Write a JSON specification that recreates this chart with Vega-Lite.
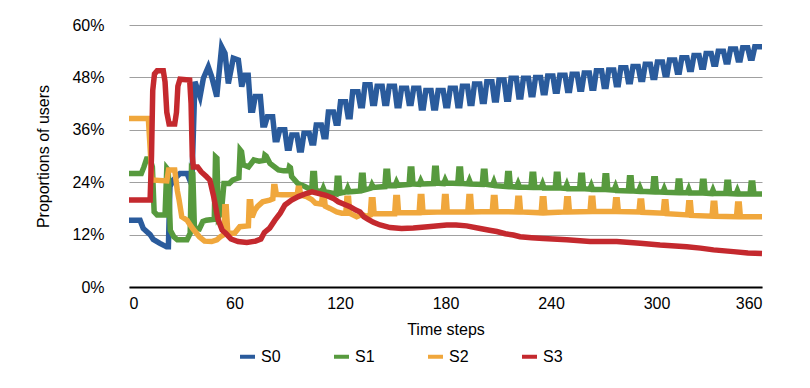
{
"$schema": "https://vega.github.io/schema/vega-lite/v6.json",
"width": 633, "height": 262,
"autosize": {"type": "none"},
"padding": {"left": 129, "top": 25, "right": 48, "bottom": 101},
"background": "white",
"config": {"view": {"stroke": null}, "font": "Liberation Sans"},
"data": {"values": [
{"t":0,"s":"S0","v":15.3},{"t":6.3,"s":"S0","v":15.3},{"t":8.1,"s":"S0","v":13.4},{"t":12,"s":"S0","v":12},{"t":13.8,"s":"S0","v":10.9},{"t":17.6,"s":"S0","v":10},{"t":21.4,"s":"S0","v":9.2},{"t":22.4,"s":"S0","v":9.2},{"t":23.3,"s":"S0","v":23},{"t":25.2,"s":"S0","v":24.5},{"t":29,"s":"S0","v":26},{"t":33,"s":"S0","v":26},{"t":35.7,"s":"S0","v":23.4},{"t":37.5,"s":"S0","v":47},{"t":40.4,"s":"S0","v":43.6},{"t":42.3,"s":"S0","v":47.8},{"t":45.1,"s":"S0","v":50.4},{"t":47,"s":"S0","v":48.2},{"t":49.9,"s":"S0","v":43.6},{"t":52.7,"s":"S0","v":55},{"t":54.6,"s":"S0","v":53.5},{"t":56.5,"s":"S0","v":46.6},{"t":59.3,"s":"S0","v":52.4},{"t":62.2,"s":"S0","v":52},{"t":64.1,"s":"S0","v":45.9},{"t":66,"s":"S0","v":48.5},{"t":67.8,"s":"S0","v":48.5},
{"t":69.2,"s":"S0","v":40.5},{"t":70.4,"s":"S0","v":40.5},{"t":71.8,"s":"S0","v":43.6},{"t":74.7,"s":"S0","v":43.6},
{"t":76.1,"s":"S0","v":37.1},{"t":77.3,"s":"S0","v":37.1},{"t":78.7,"s":"S0","v":39.0},{"t":81.7,"s":"S0","v":39.0},
{"t":83.1,"s":"S0","v":33.7},{"t":84.3,"s":"S0","v":33.7},{"t":85.7,"s":"S0","v":36.0},{"t":88.6,"s":"S0","v":36.0},
{"t":90.0,"s":"S0","v":31.8},{"t":91.2,"s":"S0","v":31.8},{"t":92.6,"s":"S0","v":34.8},{"t":95.5,"s":"S0","v":34.8},
{"t":96.9,"s":"S0","v":31.4},{"t":98.1,"s":"S0","v":31.4},{"t":99.5,"s":"S0","v":35.2},{"t":102.5,"s":"S0","v":35.2},
{"t":103.9,"s":"S0","v":33.0},{"t":105.1,"s":"S0","v":33.0},{"t":106.5,"s":"S0","v":37.1},{"t":109.4,"s":"S0","v":37.1},
{"t":110.8,"s":"S0","v":34.4},{"t":112.0,"s":"S0","v":34.4},{"t":113.4,"s":"S0","v":40.1},{"t":116.3,"s":"S0","v":40.1},
{"t":117.7,"s":"S0","v":37.5},{"t":118.9,"s":"S0","v":37.5},{"t":120.3,"s":"S0","v":42.4},{"t":123.2,"s":"S0","v":42.4},
{"t":124.6,"s":"S0","v":39.0},{"t":125.8,"s":"S0","v":39.0},{"t":127.2,"s":"S0","v":44.7},{"t":130.2,"s":"S0","v":44.7},
{"t":131.6,"s":"S0","v":41.5},{"t":132.8,"s":"S0","v":41.5},{"t":134.2,"s":"S0","v":46.3},{"t":137.1,"s":"S0","v":46.3},
{"t":138.5,"s":"S0","v":42.0},{"t":139.7,"s":"S0","v":42.0},{"t":141.1,"s":"S0","v":46.0},{"t":144.0,"s":"S0","v":46.0},
{"t":145.4,"s":"S0","v":42.0},{"t":146.6,"s":"S0","v":42.0},{"t":148.0,"s":"S0","v":46.0},{"t":151.0,"s":"S0","v":46.0},
{"t":152.4,"s":"S0","v":41.5},{"t":153.6,"s":"S0","v":41.5},{"t":155.0,"s":"S0","v":45.5},{"t":157.9,"s":"S0","v":45.5},
{"t":159.3,"s":"S0","v":42.0},{"t":160.5,"s":"S0","v":42.0},{"t":161.9,"s":"S0","v":45.5},{"t":164.8,"s":"S0","v":45.5},
{"t":166.2,"s":"S0","v":41.0},{"t":167.4,"s":"S0","v":41.0},{"t":168.8,"s":"S0","v":45.0},{"t":171.8,"s":"S0","v":45.0},
{"t":173.2,"s":"S0","v":41.0},{"t":174.4,"s":"S0","v":41.0},{"t":175.8,"s":"S0","v":45.0},{"t":178.7,"s":"S0","v":45.0},
{"t":180.1,"s":"S0","v":41.5},{"t":181.3,"s":"S0","v":41.5},{"t":182.7,"s":"S0","v":45.5},{"t":185.6,"s":"S0","v":45.5},
{"t":187.0,"s":"S0","v":41.5},{"t":188.2,"s":"S0","v":41.5},{"t":189.6,"s":"S0","v":46.0},{"t":192.5,"s":"S0","v":46.0},
{"t":193.9,"s":"S0","v":42.0},{"t":195.1,"s":"S0","v":42.0},{"t":196.5,"s":"S0","v":46.5},{"t":199.5,"s":"S0","v":46.5},
{"t":200.9,"s":"S0","v":42.5},{"t":202.1,"s":"S0","v":42.5},{"t":203.5,"s":"S0","v":47.0},{"t":206.4,"s":"S0","v":47.0},
{"t":207.8,"s":"S0","v":42.8},{"t":209.0,"s":"S0","v":42.8},{"t":210.4,"s":"S0","v":47.4},{"t":213.3,"s":"S0","v":47.4},
{"t":214.7,"s":"S0","v":43.0},{"t":215.9,"s":"S0","v":43.0},{"t":217.3,"s":"S0","v":47.8},{"t":220.3,"s":"S0","v":47.8},
{"t":221.7,"s":"S0","v":43.5},{"t":222.9,"s":"S0","v":43.5},{"t":224.3,"s":"S0","v":47.8},{"t":227.2,"s":"S0","v":47.8},
{"t":228.6,"s":"S0","v":44.0},{"t":229.8,"s":"S0","v":44.0},{"t":231.2,"s":"S0","v":48.0},{"t":234.1,"s":"S0","v":48.0},
{"t":235.5,"s":"S0","v":44.5},{"t":236.7,"s":"S0","v":44.5},{"t":238.1,"s":"S0","v":48.3},{"t":241.1,"s":"S0","v":48.3},
{"t":242.4,"s":"S0","v":44.8},{"t":243.6,"s":"S0","v":44.8},{"t":245.0,"s":"S0","v":48.5},{"t":248.0,"s":"S0","v":48.5},
{"t":249.4,"s":"S0","v":45.0},{"t":250.6,"s":"S0","v":45.0},{"t":252.0,"s":"S0","v":48.7},{"t":254.9,"s":"S0","v":48.7},
{"t":256.3,"s":"S0","v":45.3},{"t":257.5,"s":"S0","v":45.3},{"t":258.9,"s":"S0","v":49.0},{"t":261.8,"s":"S0","v":49.0},
{"t":263.2,"s":"S0","v":45.5},{"t":264.4,"s":"S0","v":45.5},{"t":265.8,"s":"S0","v":49.5},{"t":268.8,"s":"S0","v":49.5},
{"t":270.2,"s":"S0","v":45.9},{"t":271.4,"s":"S0","v":45.9},{"t":272.8,"s":"S0","v":49.7},{"t":275.7,"s":"S0","v":49.7},
{"t":277.1,"s":"S0","v":46.3},{"t":278.3,"s":"S0","v":46.3},{"t":279.7,"s":"S0","v":50.2},{"t":282.6,"s":"S0","v":50.2},
{"t":284.0,"s":"S0","v":47.0},{"t":285.2,"s":"S0","v":47.0},{"t":286.6,"s":"S0","v":50.5},{"t":289.6,"s":"S0","v":50.5},
{"t":291.0,"s":"S0","v":47.5},{"t":292.2,"s":"S0","v":47.5},{"t":293.6,"s":"S0","v":51.0},{"t":296.5,"s":"S0","v":51.0},
{"t":297.9,"s":"S0","v":48.0},{"t":299.1,"s":"S0","v":48.0},{"t":300.5,"s":"S0","v":51.5},{"t":303.4,"s":"S0","v":51.5},
{"t":304.8,"s":"S0","v":48.6},{"t":306.0,"s":"S0","v":48.6},{"t":307.4,"s":"S0","v":52.0},{"t":310.4,"s":"S0","v":52.0},
{"t":311.8,"s":"S0","v":49.2},{"t":313.0,"s":"S0","v":49.2},{"t":314.4,"s":"S0","v":52.5},{"t":317.3,"s":"S0","v":52.5},
{"t":318.7,"s":"S0","v":49.8},{"t":319.9,"s":"S0","v":49.8},{"t":321.3,"s":"S0","v":53.0},{"t":324.2,"s":"S0","v":53.0},
{"t":325.6,"s":"S0","v":50.3},{"t":326.8,"s":"S0","v":50.3},{"t":328.2,"s":"S0","v":53.5},{"t":331.1,"s":"S0","v":53.5},
{"t":332.5,"s":"S0","v":51.0},{"t":333.7,"s":"S0","v":51.0},{"t":335.1,"s":"S0","v":54.0},{"t":338.1,"s":"S0","v":54.0},
{"t":339.5,"s":"S0","v":51.5},{"t":340.7,"s":"S0","v":51.5},{"t":342.1,"s":"S0","v":54.5},{"t":345.0,"s":"S0","v":54.5},
{"t":346.4,"s":"S0","v":52.0},{"t":347.6,"s":"S0","v":52.0},{"t":349.0,"s":"S0","v":54.8},{"t":351.9,"s":"S0","v":54.8},
{"t":353.3,"s":"S0","v":52.4},{"t":354.5,"s":"S0","v":52.4},{"t":355.9,"s":"S0","v":55.0},{"t":360,"s":"S0","v":55.0},

{"t":0,"s":"S1","v":26},{"t":7,"s":"S1","v":26},{"t":8.5,"s":"S1","v":27.5},{"t":10,"s":"S1","v":29.3},{"t":12,"s":"S1","v":29.3},{"t":13.3,"s":"S1","v":27.5},{"t":14.3,"s":"S1","v":17.2},{"t":16,"s":"S1","v":16.5},{"t":20.5,"s":"S1","v":16.5},{"t":21.5,"s":"S1","v":27.2},{"t":22.3,"s":"S1","v":26.8},{"t":23.5,"s":"S1","v":13},{"t":25.5,"s":"S1","v":11.5},{"t":27.5,"s":"S1","v":10.8},{"t":33,"s":"S1","v":10.8},{"t":34.8,"s":"S1","v":12.3},{"t":35.5,"s":"S1","v":26.5},{"t":36.3,"s":"S1","v":26},{"t":37.2,"s":"S1","v":13.5},{"t":40,"s":"S1","v":13.3},{"t":42,"s":"S1","v":15},{"t":44,"s":"S1","v":15.3},{"t":48.5,"s":"S1","v":15.5},{"t":49.2,"s":"S1","v":29.8},{"t":50,"s":"S1","v":29.5},{"t":50.8,"s":"S1","v":16},{"t":52.5,"s":"S1","v":17},{"t":54,"s":"S1","v":23.7},{"t":57,"s":"S1","v":23.7},{"t":59,"s":"S1","v":24.5},{"t":62.5,"s":"S1","v":25},{"t":63.2,"s":"S1","v":31.4},{"t":64,"s":"S1","v":31},{"t":65,"s":"S1","v":28},{"t":68,"s":"S1","v":27.5},{"t":71,"s":"S1","v":29.1},{"t":74,"s":"S1","v":28.8},{"t":76.8,"s":"S1","v":29},{"t":77.3,"s":"S1","v":30.2},{"t":78,"s":"S1","v":30},{"t":80.2,"s":"S1","v":28.3},{"t":85,"s":"S1","v":26.8},{"t":88,"s":"S1","v":26.6},{"t":90.7,"s":"S1","v":26.6},{"t":91.2,"s":"S1","v":27.5},{"t":91.8,"s":"S1","v":27.3},{"t":92.5,"s":"S1","v":25.3},{"t":96,"s":"S1","v":23.7},{"t":100,"s":"S1","v":23},{"t":103.9,"s":"S1","v":22.2},
{"t":104.5,"s":"S1","v":26.0},{"t":105.5,"s":"S1","v":26.0},{"t":106.1,"s":"S1","v":22.2},{"t":109.7,"s":"S1","v":21.8},{"t":110.5,"s":"S1","v":22.6},{"t":111.3,"s":"S1","v":21.8},
{"t":117.8,"s":"S1","v":21.3},{"t":118.4,"s":"S1","v":24.9},{"t":119.4,"s":"S1","v":24.9},{"t":120.0,"s":"S1","v":21.5},{"t":123.6,"s":"S1","v":21.8},{"t":124.4,"s":"S1","v":22.6},{"t":125.2,"s":"S1","v":21.8},
{"t":131.6,"s":"S1","v":22.0},{"t":132.2,"s":"S1","v":25.6},{"t":133.2,"s":"S1","v":25.6},{"t":133.8,"s":"S1","v":22.2},{"t":137.4,"s":"S1","v":22.6},{"t":138.2,"s":"S1","v":23.4},{"t":139.0,"s":"S1","v":22.8},
{"t":145.5,"s":"S1","v":23.0},{"t":146.1,"s":"S1","v":26.5},{"t":147.1,"s":"S1","v":26.5},{"t":147.7,"s":"S1","v":23.2},{"t":151.3,"s":"S1","v":23.2},{"t":152.1,"s":"S1","v":24.0},{"t":152.9,"s":"S1","v":23.3},
{"t":159.3,"s":"S1","v":23.5},{"t":159.9,"s":"S1","v":27.0},{"t":160.9,"s":"S1","v":27.0},{"t":161.5,"s":"S1","v":23.6},{"t":165.1,"s":"S1","v":23.5},{"t":165.9,"s":"S1","v":24.3},{"t":166.7,"s":"S1","v":23.6},
{"t":173.2,"s":"S1","v":23.7},{"t":173.8,"s":"S1","v":27.2},{"t":174.8,"s":"S1","v":27.2},{"t":175.4,"s":"S1","v":23.8},{"t":179.0,"s":"S1","v":23.7},{"t":179.8,"s":"S1","v":24.5},{"t":180.6,"s":"S1","v":23.8},
{"t":187.0,"s":"S1","v":23.7},{"t":187.6,"s":"S1","v":27.0},{"t":188.6,"s":"S1","v":27.0},{"t":189.2,"s":"S1","v":23.7},{"t":192.8,"s":"S1","v":23.6},{"t":193.6,"s":"S1","v":24.4},{"t":194.4,"s":"S1","v":23.6},
{"t":200.9,"s":"S1","v":23.5},{"t":201.5,"s":"S1","v":26.5},{"t":202.5,"s":"S1","v":26.5},{"t":203.1,"s":"S1","v":23.5},{"t":206.7,"s":"S1","v":23.3},{"t":207.5,"s":"S1","v":24.1},{"t":208.3,"s":"S1","v":23.2},
{"t":214.7,"s":"S1","v":23.0},{"t":215.3,"s":"S1","v":26.0},{"t":216.3,"s":"S1","v":26.0},{"t":216.9,"s":"S1","v":23.0},{"t":220.5,"s":"S1","v":22.9},{"t":221.3,"s":"S1","v":23.7},{"t":222.1,"s":"S1","v":22.9},
{"t":228.6,"s":"S1","v":22.8},{"t":229.2,"s":"S1","v":25.8},{"t":230.2,"s":"S1","v":25.8},{"t":230.8,"s":"S1","v":22.8},{"t":234.4,"s":"S1","v":22.8},{"t":235.2,"s":"S1","v":23.6},{"t":236.0,"s":"S1","v":22.7},
{"t":242.4,"s":"S1","v":22.7},{"t":243.0,"s":"S1","v":25.8},{"t":244.0,"s":"S1","v":25.8},{"t":244.6,"s":"S1","v":22.7},{"t":248.2,"s":"S1","v":22.6},{"t":249.0,"s":"S1","v":23.4},{"t":249.8,"s":"S1","v":22.5},
{"t":256.3,"s":"S1","v":22.5},{"t":256.9,"s":"S1","v":25.6},{"t":257.9,"s":"S1","v":25.6},{"t":258.5,"s":"S1","v":22.5},{"t":262.1,"s":"S1","v":22.4},{"t":262.9,"s":"S1","v":23.2},{"t":263.7,"s":"S1","v":22.3},
{"t":270.1,"s":"S1","v":22.3},{"t":270.7,"s":"S1","v":25.5},{"t":271.7,"s":"S1","v":25.5},{"t":272.3,"s":"S1","v":22.3},{"t":275.9,"s":"S1","v":22.2},{"t":276.7,"s":"S1","v":23.0},{"t":277.5,"s":"S1","v":22.1},
{"t":284.0,"s":"S1","v":22.0},{"t":284.6,"s":"S1","v":25.0},{"t":285.6,"s":"S1","v":25.0},{"t":286.2,"s":"S1","v":22.0},{"t":289.8,"s":"S1","v":21.9},{"t":290.6,"s":"S1","v":22.7},{"t":291.4,"s":"S1","v":21.9},
{"t":297.8,"s":"S1","v":21.8},{"t":298.4,"s":"S1","v":24.8},{"t":299.4,"s":"S1","v":24.8},{"t":300.0,"s":"S1","v":21.8},{"t":303.6,"s":"S1","v":21.7},{"t":304.4,"s":"S1","v":22.5},{"t":305.2,"s":"S1","v":21.7},
{"t":311.7,"s":"S1","v":21.6},{"t":312.3,"s":"S1","v":24.3},{"t":313.3,"s":"S1","v":24.3},{"t":313.9,"s":"S1","v":21.6},{"t":317.5,"s":"S1","v":21.6},{"t":318.3,"s":"S1","v":22.4},{"t":319.1,"s":"S1","v":21.5},
{"t":325.5,"s":"S1","v":21.5},{"t":326.1,"s":"S1","v":24.2},{"t":327.1,"s":"S1","v":24.2},{"t":327.7,"s":"S1","v":21.5},{"t":331.3,"s":"S1","v":21.4},{"t":332.1,"s":"S1","v":22.2},{"t":332.9,"s":"S1","v":21.4},
{"t":339.4,"s":"S1","v":21.4},{"t":340.0,"s":"S1","v":24.0},{"t":341.0,"s":"S1","v":24.0},{"t":341.6,"s":"S1","v":21.4},{"t":345.2,"s":"S1","v":21.3},{"t":346.0,"s":"S1","v":22.1},{"t":346.8,"s":"S1","v":21.3},
{"t":353.2,"s":"S1","v":21.3},{"t":353.8,"s":"S1","v":23.8},{"t":354.8,"s":"S1","v":23.8},{"t":355.4,"s":"S1","v":21.3},{"t":360,"s":"S1","v":21.3},

{"t":0,"s":"S2","v":38.6},{"t":11,"s":"S2","v":38.6},{"t":12.3,"s":"S2","v":30},{"t":13,"s":"S2","v":24.5},{"t":21.5,"s":"S2","v":24.3},{"t":22.5,"s":"S2","v":26.8},{"t":26,"s":"S2","v":26.8},{"t":27.5,"s":"S2","v":22},{"t":28.5,"s":"S2","v":19.9},{"t":30,"s":"S2","v":16.1},{"t":33,"s":"S2","v":15.3},{"t":36,"s":"S2","v":13.5},{"t":40,"s":"S2","v":11.5},{"t":43,"s":"S2","v":10.5},{"t":47,"s":"S2","v":10.4},{"t":50,"s":"S2","v":10.8},{"t":52,"s":"S2","v":11.5},{"t":54,"s":"S2","v":12},{"t":54.5,"s":"S2","v":18.4},{"t":55.3,"s":"S2","v":18.4},{"t":56.2,"s":"S2","v":12.3},{"t":60,"s":"S2","v":12.3},{"t":63,"s":"S2","v":13.8},{"t":67.9,"s":"S2","v":14},{"t":68.4,"s":"S2","v":19.5},{"t":69.2,"s":"S2","v":19.5},{"t":70,"s":"S2","v":16},{"t":71.5,"s":"S2","v":17.5},{"t":73,"s":"S2","v":18.4},{"t":76,"s":"S2","v":19.5},{"t":80,"s":"S2","v":19.9},{"t":81.8,"s":"S2","v":20.2},{"t":82.3,"s":"S2","v":23},{"t":83.1,"s":"S2","v":23},{"t":83.8,"s":"S2","v":21.2},{"t":87,"s":"S2","v":21.1},{"t":93,"s":"S2","v":21.1},{"t":95.7,"s":"S2","v":21.2},{"t":96.2,"s":"S2","v":22.6},{"t":97,"s":"S2","v":22.6},{"t":97.7,"s":"S2","v":21.0},{"t":101,"s":"S2","v":20.7},{"t":104,"s":"S2","v":20.0},{"t":106,"s":"S2","v":19.2},{"t":109.4,"s":"S2","v":19.0},
{"t":110.0,"s":"S2","v":20.8},{"t":111.0,"s":"S2","v":20.8},{"t":111.6,"s":"S2","v":18.5},{"t":114.3,"s":"S2","v":18.0},{"t":118.1,"s":"S2","v":17.2},{"t":121,"s":"S2","v":16.9},{"t":123.3,"s":"S2","v":16.9},
{"t":123.9,"s":"S2","v":20.3},{"t":124.9,"s":"S2","v":20.3},{"t":125.5,"s":"S2","v":16.9},{"t":129.5,"s":"S2","v":16.1},{"t":132.4,"s":"S2","v":16.6},{"t":135.2,"s":"S2","v":16.2},{"t":137.2,"s":"S2","v":16.5},
{"t":137.8,"s":"S2","v":20.0},{"t":138.8,"s":"S2","v":20.0},{"t":139.4,"s":"S2","v":16.8},{"t":151.1,"s":"S2","v":16.8},
{"t":151.7,"s":"S2","v":20.5},{"t":152.7,"s":"S2","v":20.5},{"t":153.3,"s":"S2","v":17.0},{"t":165.0,"s":"S2","v":17.0},
{"t":165.6,"s":"S2","v":20.7},{"t":166.6,"s":"S2","v":20.7},{"t":167.2,"s":"S2","v":17.1},{"t":178.8,"s":"S2","v":17.2},
{"t":179.4,"s":"S2","v":20.7},{"t":180.4,"s":"S2","v":20.7},{"t":181.0,"s":"S2","v":17.2},{"t":192.7,"s":"S2","v":17.2},
{"t":193.3,"s":"S2","v":20.7},{"t":194.3,"s":"S2","v":20.7},{"t":194.9,"s":"S2","v":17.2},{"t":206.6,"s":"S2","v":17.3},
{"t":207.2,"s":"S2","v":20.5},{"t":208.2,"s":"S2","v":20.5},{"t":208.8,"s":"S2","v":17.3},{"t":220.5,"s":"S2","v":17.2},
{"t":221.1,"s":"S2","v":20.3},{"t":222.1,"s":"S2","v":20.3},{"t":222.7,"s":"S2","v":17.2},{"t":234.4,"s":"S2","v":17.0},
{"t":235.0,"s":"S2","v":20.2},{"t":236.0,"s":"S2","v":20.2},{"t":236.6,"s":"S2","v":17.0},{"t":248.3,"s":"S2","v":17.2},
{"t":248.9,"s":"S2","v":20.2},{"t":249.9,"s":"S2","v":20.2},{"t":250.5,"s":"S2","v":17.2},{"t":262.2,"s":"S2","v":17.3},
{"t":262.8,"s":"S2","v":20.3},{"t":263.8,"s":"S2","v":20.3},{"t":264.4,"s":"S2","v":17.3},{"t":276.1,"s":"S2","v":17.3},
{"t":276.7,"s":"S2","v":20.0},{"t":277.7,"s":"S2","v":20.0},{"t":278.3,"s":"S2","v":17.3},{"t":290.0,"s":"S2","v":17.2},
{"t":290.6,"s":"S2","v":19.7},{"t":291.6,"s":"S2","v":19.7},{"t":292.2,"s":"S2","v":17.1},{"t":303.8,"s":"S2","v":16.9},
{"t":304.4,"s":"S2","v":19.5},{"t":305.4,"s":"S2","v":19.5},{"t":306.0,"s":"S2","v":16.8},{"t":317.7,"s":"S2","v":16.5},
{"t":318.3,"s":"S2","v":19.3},{"t":319.3,"s":"S2","v":19.3},{"t":319.9,"s":"S2","v":16.4},{"t":331.6,"s":"S2","v":16.2},
{"t":332.2,"s":"S2","v":19.2},{"t":333.2,"s":"S2","v":19.2},{"t":333.8,"s":"S2","v":16.2},{"t":345.5,"s":"S2","v":16.1},
{"t":346.1,"s":"S2","v":19.0},{"t":347.1,"s":"S2","v":19.0},{"t":347.7,"s":"S2","v":16.1},{"t":360,"s":"S2","v":16.1},

{"t":0,"s":"S3","v":19.9},{"t":12,"s":"S3","v":19.9},{"t":12.8,"s":"S3","v":30},{"t":13.5,"s":"S3","v":45},{"t":14.5,"s":"S3","v":48.8},{"t":16,"s":"S3","v":49.5},{"t":19.5,"s":"S3","v":49.5},{"t":20.5,"s":"S3","v":47},{"t":21.5,"s":"S3","v":40},{"t":22.8,"s":"S3","v":37.3},{"t":26,"s":"S3","v":37.3},{"t":27,"s":"S3","v":40},{"t":27.8,"s":"S3","v":46},{"t":29,"s":"S3","v":47.6},{"t":34.5,"s":"S3","v":47.4},{"t":35.3,"s":"S3","v":42},{"t":36,"s":"S3","v":30},{"t":36.6,"s":"S3","v":27.5},{"t":39,"s":"S3","v":27.5},{"t":41,"s":"S3","v":26.4},{"t":44,"s":"S3","v":25.3},{"t":46,"s":"S3","v":24.5},{"t":48,"s":"S3","v":21},{"t":50.6,"s":"S3","v":15.5},{"t":53,"s":"S3","v":13},{"t":55,"s":"S3","v":12.3},{"t":58,"s":"S3","v":11},{"t":62,"s":"S3","v":10.4},{"t":67,"s":"S3","v":10.2},{"t":72,"s":"S3","v":10.5},{"t":75,"s":"S3","v":11},{"t":77,"s":"S3","v":12.5},{"t":80,"s":"S3","v":13.5},{"t":83,"s":"S3","v":15.3},{"t":86,"s":"S3","v":16.9},{"t":88.7,"s":"S3","v":18.8},{"t":92.5,"s":"S3","v":19.9},{"t":96.3,"s":"S3","v":20.7},{"t":100,"s":"S3","v":21.3},{"t":104,"s":"S3","v":21.8},{"t":107,"s":"S3","v":21.5},{"t":112,"s":"S3","v":21.0},{"t":116.2,"s":"S3","v":20.3},{"t":119,"s":"S3","v":19.5},{"t":122,"s":"S3","v":19.0},{"t":125.7,"s":"S3","v":18.4},{"t":129,"s":"S3","v":17.6},{"t":131.4,"s":"S3","v":17.2},{"t":133.5,"s":"S3","v":16.1},{"t":136,"s":"S3","v":15.5},{"t":139,"s":"S3","v":14.8},{"t":142.8,"s":"S3","v":14.2},{"t":148.5,"s":"S3","v":13.6},{"t":155,"s":"S3","v":13.4},{"t":161.7,"s":"S3","v":13.5},{"t":170,"s":"S3","v":13.8},{"t":180.7,"s":"S3","v":14.2},{"t":186,"s":"S3","v":14.2},{"t":192,"s":"S3","v":14.0},{"t":199.7,"s":"S3","v":13.4},{"t":205,"s":"S3","v":13.0},{"t":209.2,"s":"S3","v":12.7},{"t":214,"s":"S3","v":12.2},{"t":218.6,"s":"S3","v":11.9},{"t":222.4,"s":"S3","v":11.5},{"t":229,"s":"S3","v":11.3},{"t":235.7,"s":"S3","v":11.1},{"t":249,"s":"S3","v":10.8},{"t":262.2,"s":"S3","v":10.4},{"t":277.4,"s":"S3","v":10.4},{"t":290.7,"s":"S3","v":10.0},{"t":302,"s":"S3","v":9.6},{"t":317.2,"s":"S3","v":9.2},{"t":325,"s":"S3","v":8.9},{"t":332.4,"s":"S3","v":8.5},{"t":343.7,"s":"S3","v":8.1},{"t":352,"s":"S3","v":7.8},{"t":360,"s":"S3","v":7.7}
]},
"mark": {"type": "line", "strokeWidth": 5.5},
"encoding": {
  "x": {"field": "t", "type": "quantitative", "scale": {"domain": [0, 360], "nice": false},
    "axis": {"values": [0, 60, 120, 180, 240, 300, 360], "grid": false, "ticks": false, "domainColor": "#000", "domainWidth": 2, "labelFontSize": 16, "labelColor": "#000", "labelPadding": 8, "title": "Time steps", "titleFontSize": 16, "titleFontWeight": "normal", "titleColor": "#000", "titlePadding": 10}},
  "y": {"field": "v", "type": "quantitative", "scale": {"domain": [0, 60], "nice": false},
    "axis": {"values": [0, 12, 24, 36, 48, 60], "labelExpr": "datum.value + '%'", "domain": false, "ticks": false, "gridColor": "#a0a0a0", "gridWidth": 1, "labelFontSize": 16, "labelColor": "#000", "labelPadding": 25, "title": "Proportions of users", "titleFontSize": 16, "titleFontWeight": "normal", "titleColor": "#000", "titlePadding": 20}},
  "color": {"field": "s", "type": "nominal", "scale": {"domain": ["S0", "S1", "S2", "S3"], "range": ["#2a5b9c", "#579a3e", "#f0a73c", "#c4292e"]},
    "legend": {"title": null, "orient": "none", "direction": "horizontal", "legendX": 109, "legendY": 322, "symbolType": "stroke", "symbolStrokeWidth": 4, "symbolSize": 225, "labelFontSize": 16, "labelColor": "#000", "columnPadding": 45, "labelOffset": 4, "padding": 0}}
}
}
